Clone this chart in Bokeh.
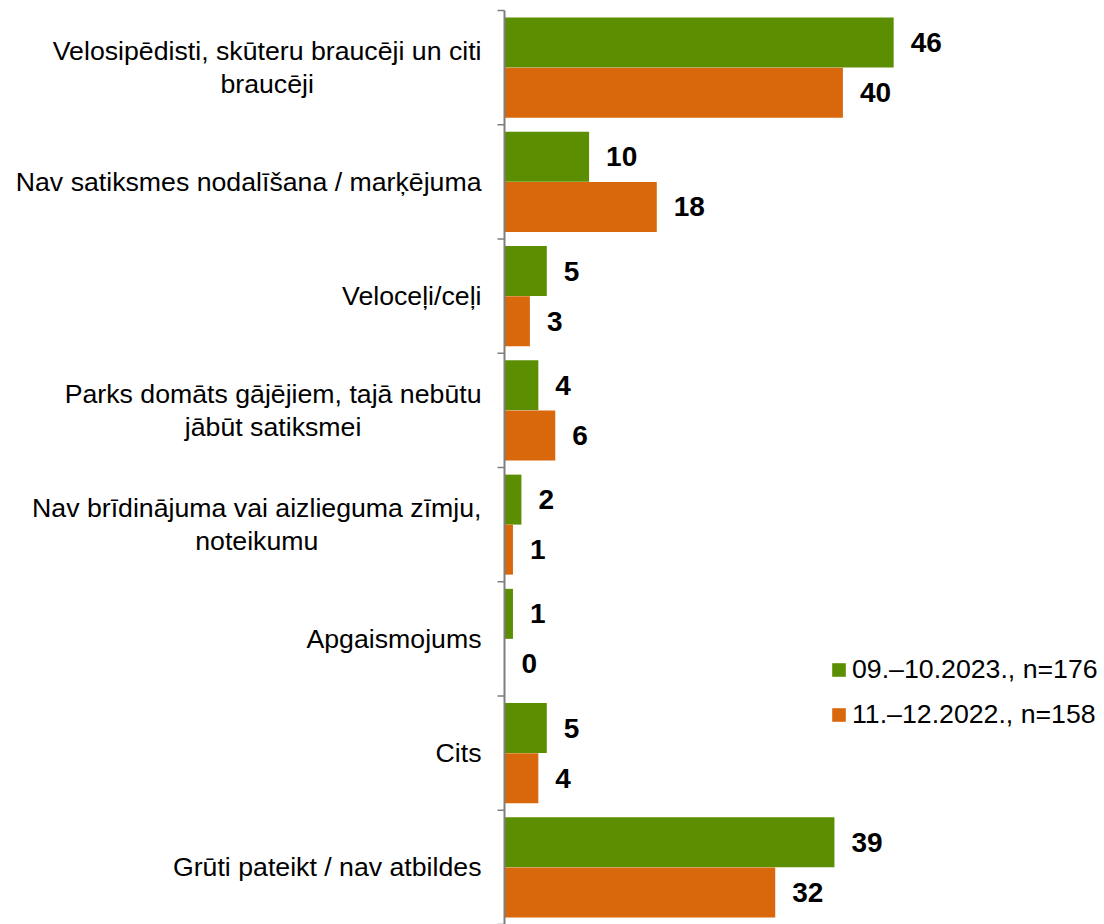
from bokeh.plotting import figure
from bokeh.models import ColumnDataSource, Range1d, Legend, LegendItem
from bokeh.core.properties import value
from bokeh.embed import file_html
from bokeh.resources import INLINE

categories = [
    "Velosipēdisti, skūteru braucēji un citi\nbraucēji",
    "Nav satiksmes nodalīšana / marķējuma",
    "Veloceļi/ceļi",
    "Parks domāts gājējiem, tajā nebūtu\njābūt satiksmei",
    "Nav brīdinājuma vai aizlieguma zīmju,\nnoteikumu",
    "Apgaismojums",
    "Cits",
    "Grūti pateikt / nav atbildes",
]
series_names = ["09.–10.2023., n=176", "11.–12.2022., n=158"]
values_2023 = [46, 10, 5, 4, 2, 1, 5, 39]
values_2022 = [40, 18, 3, 6, 1, 0, 4, 32]

GREEN = "#5B8E00"
ORANGE = "#D9670B"
FONT = "Liberation Sans"

W, H = 1104, 924
px = 8.46
x_start, x_end = -504 / px, (W - 504) / px
n = len(categories)
band = (H - 10) / n
y_end = n + 10 / band

centers = [n - i - 0.5 for i in range(n)]
bar_h = 0.4375
off = 0.219

src = ColumnDataSource(dict(
    cat=categories,
    yc=centers,
    y23=[c + off for c in centers],
    y22=[c - off for c in centers],
    v23=values_2023,
    v22=values_2022,
    l23=[str(v) for v in values_2023],
    l22=[str(v) for v in values_2022],
))

p = figure(width=W, height=H, x_range=Range1d(x_start, x_end), y_range=Range1d(0, y_end),
           x_axis_type=None, y_axis_type=None, output_backend="svg", toolbar_location=None,
           min_border=0, outline_line_color=None)
p.xgrid.visible = False
p.ygrid.visible = False

r23 = p.hbar(y="y23", right="v23", left=0, height=bar_h, source=src, fill_color=GREEN, line_color=None)
r22 = p.hbar(y="y22", right="v22", left=0, height=bar_h, source=src, fill_color=ORANGE, line_color=None)

# axis line and ticks between categories
bounds = list(range(n + 1))
p.segment(x0=[0], y0=[0], x1=[0], y1=[n], line_color="#7F7F7F", line_width=2)
tick = 7 / px
p.segment(x0=[-tick] * len(bounds), y0=bounds, x1=[0] * len(bounds), y1=bounds,
          line_color="#7F7F7F", line_width=1.5)

# category labels
p.text(x=0, y="yc", text="cat", source=src, x_offset=-23, anchor="center_right",
       text_align="center", text_baseline="middle", text_font=value(FONT),
       text_font_size="26.7px", text_color="#000000", text_line_height=1.08)

# value labels
for ycol, vcol, lcol in [("y23", "v23", "l23"), ("y22", "v22", "l22")]:
    p.text(x=vcol, y=ycol, text=lcol, source=src, x_offset=17, text_align="left",
           text_baseline="middle", text_font=value(FONT), text_font_size="28px",
           text_font_style="bold", text_color="#000000")

legend = Legend(items=[LegendItem(label=series_names[0], renderers=[r23]),
                       LegendItem(label=series_names[1], renderers=[r22])],
                location=(830, 194), orientation="vertical",
                label_text_font=FONT, label_text_font_size="26.7px", label_text_color="#000000",
                glyph_width=17, glyph_height=17, label_standoff=5, label_height=30,
                spacing=14, padding=0, margin=0, border_line_color=None,
                background_fill_alpha=0)
p.add_layout(legend)

open("out.html", "w").write(file_html(p, INLINE))
